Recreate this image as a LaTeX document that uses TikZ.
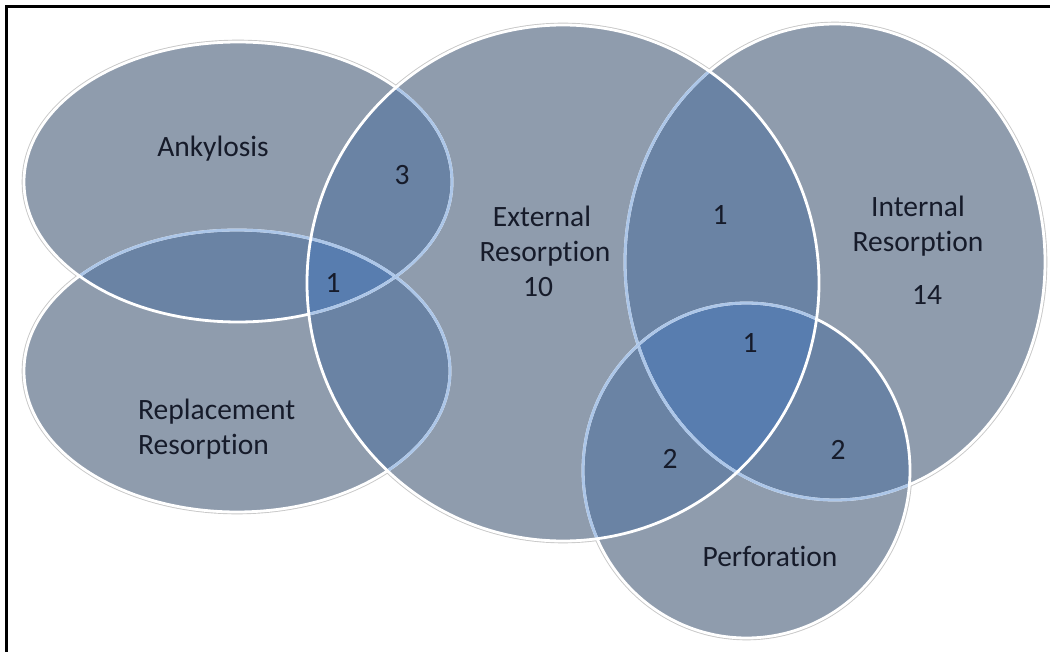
\documentclass[tikz,border=0pt]{standalone}
\usepackage{fontspec}
\setmainfont{Carlito}[Ligatures={NoCommon}]
\definecolor{cSingle}{RGB}{143,156,173}
\definecolor{cDouble}{RGB}{106,131,164}
\definecolor{cTriple}{RGB}{88,125,175}
\definecolor{cLight}{RGB}{172,198,232}
\definecolor{cShadow}{RGB}{200,200,200}
\definecolor{cText}{RGB}{22,27,42}
\begin{document}
\begin{tikzpicture}[x=1pt,y=-1pt,
  lbl/.style={font=\fontsize{29.5}{35}\selectfont, text=cText, inner sep=0pt},
  wline/.style={draw=white, line width=2.8pt},
  bline/.style={draw=cLight, line width=2.8pt},
  shadowline/.style={draw=cShadow, line width=4.6pt}]
\useasboundingbox (0,0) rectangle (1050,652);
\fill[white] (0,0) rectangle (1050,652);
\def\Ank{(238,182) ellipse [x radius=214pt, y radius=140pt]}
\def\Rep{(237,371) ellipse [x radius=213pt, y radius=141pt]}
\def\Ext{(563,283) ellipse [x radius=256pt, y radius=258pt]}
\def\Int{(835,262) ellipse [x radius=210pt, y radius=238pt]}
\def\Per{(746.5,470.5) ellipse [x radius=163.5pt, y radius=167.5pt]}
% outer shadows
\draw[shadowline] \Ank;
\draw[shadowline] \Rep;
\draw[shadowline] \Ext;
\draw[shadowline] \Int;
\draw[shadowline] \Per;
% single fills
\fill[cSingle] \Ank;
\fill[cSingle] \Rep;
\fill[cSingle] \Ext;
\fill[cSingle] \Int;
\fill[cSingle] \Per;
% double overlaps
\begin{scope}\clip \Ank; \fill[cDouble] \Rep; \fill[cDouble] \Ext; \end{scope}
\begin{scope}\clip \Rep; \fill[cDouble] \Ext; \end{scope}
\begin{scope}\clip \Ext; \fill[cDouble] \Int; \fill[cDouble] \Per; \end{scope}
\begin{scope}\clip \Int; \fill[cDouble] \Per; \end{scope}
% triple overlaps
\begin{scope}\clip \Ank; \clip \Rep; \fill[cTriple] \Ext; \end{scope}
\begin{scope}\clip \Ext; \clip \Int; \fill[cTriple] \Per; \end{scope}
% outlines (stacking order: Rep, Ank, Int, Per, Ext)
\draw[wline] \Rep;
\begin{scope}\clip \Ank; \draw[bline] \Rep; \end{scope}
\begin{scope}\clip \Ext; \draw[bline] \Rep; \end{scope}
\draw[wline] \Ank;
\begin{scope}\clip \Ext; \draw[bline] \Ank; \end{scope}
\draw[wline] \Int;
\begin{scope}\clip \Per; \draw[bline] \Int; \end{scope}
\begin{scope}\clip \Ext; \draw[bline] \Int; \end{scope}
\draw[wline] \Per;
\begin{scope}\clip \Ext; \draw[bline] \Per; \end{scope}
\draw[wline] \Ext;
% frame (left and top edges)
\draw[black, line width=2.5pt] (6.5,652) -- (6.5,6.5) -- (1050,6.5);
% labels
\node[lbl, anchor=base] (ank) at (213,157) {Ankylosis};
\node[lbl, anchor=base] (n3) at (402,185) {3};
\node[lbl, anchor=base] (n1a) at (333,293) {1};
\node[lbl, anchor=base] (ext1) at (542,227) {External};
\node[lbl, anchor=base] (ext2) at (545,262) {Resorption};
\node[lbl, anchor=base] (ext3) at (538,297) {10};
\node[lbl, anchor=base] (n1b) at (720,225) {1};
\node[lbl, anchor=base] (int1) at (918,217) {Internal};
\node[lbl, anchor=base] (int2) at (918,252) {Resorption};
\node[lbl, anchor=base] (int3) at (927,305) {14};
\node[lbl, anchor=base] (n1c) at (750,353) {1};
\node[lbl, anchor=base] (n2a) at (670,468) {2};
\node[lbl, anchor=base] (n2b) at (838,459) {2};
\node[lbl, anchor=base] (per) at (770,566) {Perforation};
\node[lbl, anchor=base west] (rep1) at (138,419) {Replacement};
\node[lbl, anchor=base west] (rep2) at (138,454) {Resorption};
\end{tikzpicture}
\end{document}
